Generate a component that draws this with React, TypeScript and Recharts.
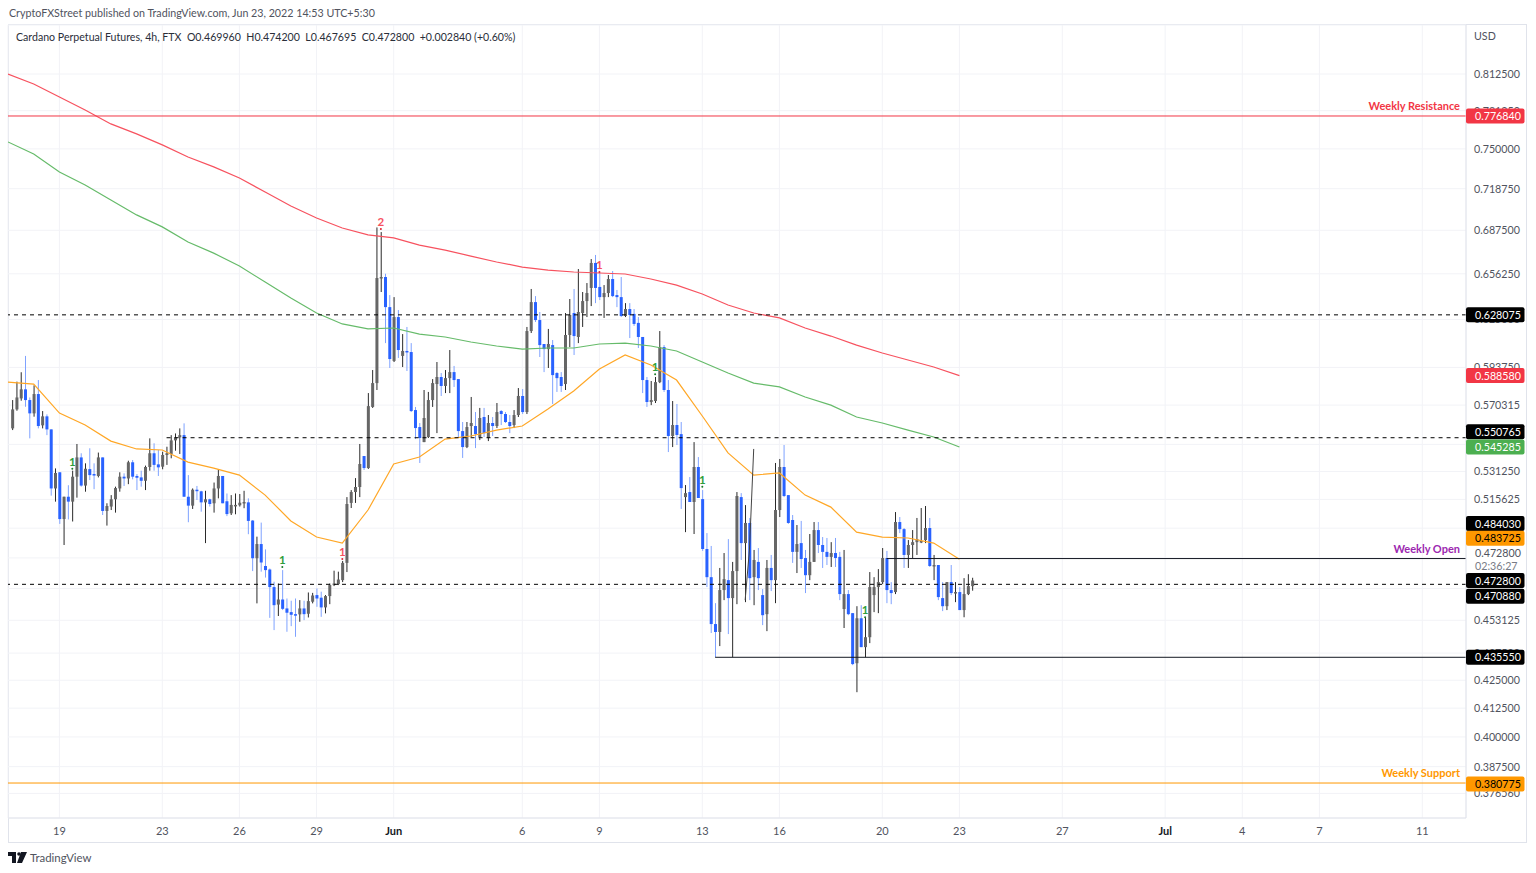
import React from "react";
import {
  Bar,
  CartesianGrid,
  ComposedChart,
  Line,
  ReferenceDot,
  ReferenceLine,
  XAxis,
  YAxis,
} from "recharts";

const FONT = "Lato, 'Open Sans', sans-serif";

// 4h candles, index 0 = May 19 00:00, six candles a day
const firstCandle = -11;
const opens = [
  .5563,.5677,.5744,.5800,.5734,.5653,.5771,.5581,.5635,.5557,
  .5217,.5308,.5049,.5171,.5144,.5283,.5393,.5233,.5326,.5298,
  .5287,.5393,.5093,.5117,.5157,.5217,.5283,.5273,.5365,.5287,
  .5279,.5260,.5338,.5417,.5353,.5340,.5407,.5413,.5492,.5510,
  .5523,.5171,.5122,.5210,.5201,.5140,.5157,.5135,.5217,.5287,
  .5146,.5080,.5124,.5124,.5138,.5140,.5041,.4842,.4916,.4802,
  .4784,.4695,.4608,.4633,.4589,.4571,.4561,.4560,.4589,.4563,
  .4622,.4655,.4642,.4594,.4650,.4705,.4710,.4730,.4818,.5137,
  .5197,.5225,.5401,.5332,.5692,.5839,.6533,.6540,.6333,.5979,
  .6266,.6011,.6043,.6036,.5673,.5571,.5482,.5512,.5734,.5833,
  .5877,.5821,.5870,.5908,.5864,.5547,.5453,.5577,.5577,.5512,
  .5631,.5506,.5595,.5577,.5667,.5649,.5601,.5583,.5643,.5759,
  .5661,.6173,.6367,.6246,.6088,.6055,.6081,.5902,.5877,.5833,
  .6147,.6293,.6134,.6293,.6374,.6464,.6639,.6471,.6401,.6429,
  .6526,.6415,.6401,.6273,.6320,.6287,.6227,.6134,.5858,.5722,
  .5728,.5845,.6068,.5796,.5518,.5583,.5529,.5169,.5197,.5142,
  .5338,.5158,.4890,.4745,.4513,.4475,.4680,.4730,.4640,.4776,
  .5169,.4921,.5028,.4745,.4823,.4655,.4561,.4792,.4730,.5098,
  .5338,.5180,.5044,.4875,.4921,.4843,.4755,.4823,.4990,.4911,
  .4875,.4849,.4869,.4849,.4586,.4660,.4566,.4328,.4541,.4403,
  .4450,.4655,.4695,.4720,.4843,.4680,.4670,.5033,.4995,.4859,
  .4911,.4926,.4926,.4937,.5001,.4802,.4807,.4640,.4600,.4720,
  .4665,.4670,.4581,.4660,.46996,
];
const highs = [
  .5734,.5848,.5907,.6011,.5750,.5825,.5858,.5667,.5647,.5557,
  .5330,.5308,.5171,.5235,.5317,.5471,.5417,.5359,.5446,.5359,
  .5421,.5393,.5135,.5180,.5227,.5308,.5302,.5374,.5378,.5298,
  .5317,.5346,.5504,.5475,.5436,.5426,.5455,.5523,.5533,.5563,
  .5593,.5292,.5217,.5231,.5204,.5204,.5160,.5250,.5326,.5287,
  .5189,.5180,.5189,.5186,.5204,.5162,.5044,.4955,.5030,.4888,
  .4789,.4722,.4713,.4781,.4638,.4627,.4638,.4630,.4627,.4668,
  .4666,.4688,.4672,.4655,.4713,.4778,.4773,.4828,.5169,.5208,
  .5275,.5471,.5401,.5777,.5921,.6896,.6862,.6563,.6415,.6401,
  .6313,.6153,.6200,.6094,.5692,.5595,.5796,.5784,.5864,.5972,
  .5902,.5921,.6049,.5947,.5864,.5601,.5601,.5753,.5661,.5686,
  .5686,.5643,.5631,.5716,.5673,.5661,.5643,.5673,.5808,.5802,
  .6200,.6457,.6408,.6300,.6088,.6187,.6114,.5908,.5908,.6293,
  .6388,.6457,.6596,.6436,.6498,.6667,.6696,.6568,.6484,.6554,
  .6582,.6450,.6540,.6360,.6360,.6320,.6266,.6134,.5877,.5852,
  .5877,.6173,.6081,.5858,.5728,.5710,.5601,.5236,.5281,.5482,
  .5395,.5208,.4974,.4906,.4615,.4792,.4869,.4942,.4823,.5197,
  .5191,.5125,.5055,.4885,.4895,.4685,.4833,.4859,.5361,.5384,
  .5465,.5180,.5071,.5017,.5039,.4885,.4969,.5033,.5033,.4953,
  .4948,.4926,.4948,.4875,.4885,.4680,.4566,.4600,.4605,.4546,
  .4771,.4745,.4786,.4895,.4880,.4720,.5087,.5060,.5001,.4937,
  .4990,.5055,.5109,.5120,.5055,.4859,.4807,.4720,.4720,.4807,
  .4720,.4695,.4740,.4760,.4742,
];
const lows = [
  .5553,.5669,.5730,.5693,.5504,.5633,.5563,.5563,.5523,.5177,
  .5144,.5023,.4911,.5047,.5036,.5166,.5227,.5199,.5264,.5213,
  .5279,.5071,.5014,.5098,.5084,.5199,.5231,.5241,.5268,.5208,
  .5227,.5208,.5317,.5317,.5287,.5325,.5350,.5388,.5432,.5413,
  .5171,.5032,.5104,.5153,.5089,.4921,.5117,.5084,.5162,.5135,
  .5065,.5071,.5075,.5117,.5108,.4968,.4776,.4614,.4773,.4743,
  .4543,.4484,.4552,.4581,.4476,.4503,.4452,.4524,.4532,.4545,
  .4614,.4597,.4548,.4565,.4610,.4700,.4705,.4720,.4771,.5109,
  .5137,.5169,.5321,.5327,.5686,.5796,.6436,.6094,.5934,.5972,
  .5998,.5940,.5915,.5661,.5500,.5361,.5482,.5506,.5692,.5535,
  .5759,.5777,.5777,.5815,.5512,.5390,.5447,.5512,.5447,.5494,
  .5512,.5488,.5518,.5565,.5583,.5595,.5535,.5565,.5631,.5649,
  .5649,.6160,.6233,.6004,.5908,.5934,.5710,.5784,.5784,.5796,
  .6068,.6017,.6094,.6200,.6266,.6340,.6360,.6381,.6260,.6401,
  .6401,.6333,.6266,.6266,.6127,.6207,.6062,.5777,.5692,.5703,
  .5716,.5839,.5784,.5424,.5453,.5465,.5104,.4979,.5142,.4969,
  .5164,.4880,.4695,.4470,.4356,.4408,.4630,.4465,.4356,.4610,
  .4833,.4620,.4630,.4605,.4680,.4508,.4479,.4675,.4615,.5060,
  .5169,.5023,.4818,.4766,.4792,.4665,.4730,.4823,.4869,.4792,
  .4807,.4797,.4797,.4630,.4494,.4556,.4319,.4196,.4403,.4356,
  .4422,.4571,.4566,.4710,.4615,.4610,.4660,.4974,.4792,.4792,
  .4843,.4859,.4921,.4921,.4797,.4730,.4630,.4576,.4581,.4655,
  .4620,.4581,.4546,.4655,.4677,
];
const closes = [
  .5677,.5750,.5800,.5734,.5653,.5771,.5577,.5635,.5557,.5217,
  .5304,.5049,.5171,.5144,.5283,.5393,.5233,.5328,.5292,.5292,
  .5393,.5093,.5120,.5157,.5219,.5283,.5273,.5365,.5283,.5277,
  .5260,.5338,.5417,.5350,.5336,.5407,.5417,.5492,.5510,.5523,
  .5171,.5122,.5210,.5204,.5140,.5157,.5131,.5217,.5287,.5135,
  .5076,.5126,.5126,.5138,.5142,.5039,.4842,.4916,.4820,.4781,
  .4695,.4605,.4633,.4587,.4568,.4558,.4558,.4589,.4561,.4625,
  .4653,.4638,.4594,.4650,.4705,.4713,.4733,.4818,.5131,.5197,
  .5225,.5355,.5332,.5697,.5839,.6533,.6540,.6333,.5991,.6266,
  .6049,.6043,.6036,.5667,.5565,.5506,.5625,.5734,.5839,.5877,
  .5821,.5870,.5908,.5858,.5547,.5453,.5571,.5595,.5529,.5625,
  .5535,.5595,.5577,.5661,.5649,.5601,.5577,.5643,.5759,.5661,
  .6173,.6367,.6246,.6081,.6055,.6088,.5889,.5870,.5821,.6147,
  .6280,.6140,.6300,.6374,.6429,.6639,.6464,.6401,.6429,.6526,
  .6408,.6401,.6273,.6320,.6280,.6220,.6134,.5858,.5722,.5734,
  .5845,.6068,.5796,.5518,.5583,.5524,.5219,.5191,.5142,.5338,
  .5164,.4890,.4745,.4513,.4475,.4680,.4735,.4640,.4776,.5175,
  .4921,.5028,.4740,.4833,.4740,.4556,.4792,.4730,.5098,.5338,
  .5175,.5028,.4875,.4916,.4838,.4755,.4823,.4990,.4911,.4875,
  .4849,.4869,.4843,.4660,.4660,.4561,.4324,.4541,.4403,.4450,
  .4695,.4695,.4720,.4843,.4680,.4665,.5033,.4995,.4859,.4911,
  .4926,.4942,.4932,.5001,.4802,.4807,.4645,.4600,.4720,.4665,
  .4670,.4581,.4660,.4700,.4728,
];

// daily moving averages, one point per day starting May 17
const firstAverageDay = -2;
const redAverage = [
  .8125,.8039,.7928,.7819,.7703,.7621,.7532,.7435,.7357,.7270,
  .7162,.7056,.6966,.6892,.6841,.6819,.6767,.6731,.6688,.6646,
  .6610,.6589,.6575,.6568,.6561,.6526,.6484,.6422,.6347,.6293,
  .6260,.6193,.6140,.6081,.6030,.5985,.5940,.5886,
];
const greenAverage = [
  .7556,.7459,.7317,.7216,.7101,.6989,.6900,.6789,.6709,.6617,
  .6505,.6395,.6293,.6220,.6187,.6193,.6153,.6134,.6101,.6075,
  .6055,.6062,.6062,.6088,.6094,.6075,.6043,.5972,.5902,.5839,
  .5815,.5753,.5703,.5631,.5595,.5553,.5512,.5453,
];
const orangeAverage = [
  .5845,.5833,.5655,.5583,.5488,.5442,.5436,.5366,.5332,.5292,
  .5180,.5039,.4953,.4921,.5098,.5355,.5395,.5500,.5518,.5553,
  .5577,.5679,.5790,.5927,.6017,.5953,.5858,.5637,.5419,.5292,
  .5304,.5180,.5114,.4979,.4953,.4948,.4921,.4837,
];

// stray hand drawn stroke near Jun 15
const strokeCandles = [160, 161, 162];
const strokePrices = [.4630, .4885, .5442];

const dayTicks = [0, 24, 42, 60, 78, 108, 126, 150, 168, 192, 210, 234, 258, 276, 294, 318];
const dayLabels = ["19", "23", "26", "29", "Jun", "6", "9", "13", "16", "20", "23", "27", "Jul", "4", "7", "11"];

const priceTicks = [
  .8125, .78125, .75, .71875, .6875, .65625, .625, .59375, .570315, .546875, .53125, .515625,
  .5, .484375, .46875, .453125, .4375, .425, .4125, .4, .3875, .37656,
];
// grid lines whose labels sit wholly behind a price tag
const hiddenTicks = [.546875, .5, .484375, .46875];
// labels a price tag covers in part, drawn under the tags
const peekingTicks = [.78125, .625, .59375, .4375, .37656];

const markCandles = [3, 52, 66, 75, 126, 139, 150, 188];
const markPrices = [.5328, .4797, .4838, .6885, .6575, .5895, .5227, .4546];
const markTexts = ["1", "1", "1", "2", "1", "1", "1", "1"];
const markBuy = [true, true, false, false, false, true, true, true];

const tagPrices = [.77684, .628075, .58858, .550765, .545285, .48403, .483725, .4728, .4728, .4728, .47088, .43555, .380775];
const tagTexts = ["0.776840", "0.628075", "0.588580", "0.550765", "0.545285", "0.484030", "0.483725", "0.472800", "02:36:27", "0.472800", "0.470880", "0.435550", "0.380775"];
const tagFills = ["#f23645", "#000", "#f23645", "#000", "#4caf50", "#000", "#ff9800", "none", "none", "#000", "#000", "#000", "#ff9800"];
const tagInks = ["#fff", "#fff", "#fff", "#fff", "#fff", "#fff", "#000", "#50535e", "#787b86", "#fff", "#fff", "#fff", "#000"];
const tagShifts = [0, 0, 0, -6, 0, -35, -21, -28, -15, 0, 12, 0, 1];

const lineNames = ["Weekly Resistance", "Weekly Open", "Weekly Support"];
const linePrices = [.77684, .48403, .380775];
const lineColors = ["#f23645", "#9c27b0", "#ff9800"];

const X_MIN = -12;
const X_MAX = 328.2;

const rows: any[] = [];
for (let idx = X_MIN; idx < firstCandle + opens.length; idx++) {
  const i = idx - firstCandle;
  const row: any = { idx };
  if (i >= 0) {
    row.up = closes[i] >= opens[i];
    row.wick = [lows[i], highs[i]];
    row.body = [Math.min(opens[i], closes[i]), Math.max(opens[i], closes[i])];
  }
  if (idx % 6 === 0) {
    const d = idx / 6 - firstAverageDay;
    row.red = redAverage[d];
    row.green = greenAverage[d];
    row.orange = orangeAverage[d];
  }
  const s = strokeCandles.indexOf(idx);
  if (s >= 0) row.stroke = strokePrices[s];
  rows.push(row);
}

function WickShape(props: any) {
  const { x, y, width, height, payload } = props;
  if (!payload.wick || !Number.isFinite(y)) return null;
  return <rect x={x} y={y} width={width} height={Math.max(height, 1)} fill={payload.up ? "#2a2a2a" : "#7fa2ff"} />;
}

function BodyShape(props: any) {
  const { x, y, width, height, payload } = props;
  if (!payload.body || !Number.isFinite(y)) return null;
  return <rect x={x} y={y} width={width} height={Math.max(height, 1.5)} fill={payload.up ? "#666" : "#2962ff"} />;
}

function PriceTick(props: any) {
  const { x, y, payload } = props;
  if (hiddenTicks.includes(payload.value) || peekingTicks.includes(payload.value)) return null;
  return (
    <text x={x} y={y + 4} fontSize={10.7} fontFamily={FONT} fill="#50535e">
      {payload.value.toFixed(6)}
    </text>
  );
}

function DayTick(props: any) {
  const { x, y, payload } = props;
  const label = dayLabels[dayTicks.indexOf(payload.value)];
  const bold = label === "Jun" || label === "Jul";
  return (
    <text x={x} y={y + 9} textAnchor="middle" fontSize={11} fontFamily={FONT} fontWeight={bold ? 700 : 400} fill={bold ? "#131722" : "#50535e"}>
      {label}
    </text>
  );
}

function App() {
  return (
    <div style={{ position: "absolute", left: 0, top: 0, width: 1536, height: 873, background: "#fff", fontFamily: FONT, overflow: "hidden" }}>
      <div style={{ position: "absolute", left: 9, top: 6, fontSize: 10.7, lineHeight: "14px", color: "#50535e", whiteSpace: "nowrap" }}>
        CryptoFXStreet published on TradingView.com, Jun 23, 2022 14:53 UTC+5:30
      </div>
      <div style={{ position: "absolute", left: 8, top: 24, width: 1517, height: 817, border: "1px solid #e0e3eb" }} />
      <ComposedChart
        width={1536}
        height={873}
        data={rows}
        margin={{ top: 25, right: 10, bottom: 31, left: 8 }}
        style={{ position: "absolute", left: 0, top: 0 }}
      >
        <CartesianGrid stroke="#f2f3f7" />
        <XAxis
          dataKey="idx"
          type="number"
          domain={[X_MIN, X_MAX]}
          allowDataOverflow
          ticks={dayTicks}
          interval={0}
          height={24}
          tick={<DayTick />}
          tickLine={false}
          axisLine={{ stroke: "#e0e3eb" }}
        />
        <XAxis xAxisId="wick" dataKey="idx" type="number" domain={[X_MIN, X_MAX]} allowDataOverflow hide />
        <YAxis
          orientation="right"
          scale="log"
          domain={[0.3668, 0.8562]}
          allowDataOverflow
          ticks={priceTicks}
          interval={0}
          width={60}
          tick={<PriceTick />}
          tickLine={false}
          axisLine={{ stroke: "#e0e3eb" }}
        />
        <Bar xAxisId="wick" dataKey="wick" barSize={1} shape={<WickShape />} isAnimationActive={false} />
        <Bar dataKey="body" barSize={3} shape={<BodyShape />} isAnimationActive={false} />
        <Line dataKey="red" stroke="#f7525f" strokeWidth={1.2} dot={false} connectNulls isAnimationActive={false} />
        <Line dataKey="green" stroke="#66bb6a" strokeWidth={1.2} dot={false} connectNulls isAnimationActive={false} />
        <Line dataKey="orange" stroke="#ffa726" strokeWidth={1.2} dot={false} connectNulls isAnimationActive={false} />
        <Line dataKey="stroke" stroke="#444" strokeWidth={1} dot={false} isAnimationActive={false} />

        <ReferenceLine y={.77684} stroke="#f23645" />
        <ReferenceLine y={.380775} stroke="#ff9800" />
        <ReferenceLine y={.628075} stroke="#000" strokeDasharray="4 4" />
        <ReferenceLine y={.47088} stroke="#000" strokeDasharray="4 4" />
        <ReferenceLine segment={[{ x: 25, y: .550765 }, { x: X_MAX, y: .550765 }]} stroke="#000" strokeDasharray="4 4" />
        <ReferenceLine segment={[{ x: 193, y: .48403 }, { x: X_MAX, y: .48403 }]} stroke="#131722" />
        <ReferenceLine segment={[{ x: 153, y: .43555 }, { x: X_MAX, y: .43555 }]} stroke="#131722" />

        {markCandles.map((c, i) => (
          <ReferenceDot
            key={"mark" + i}
            x={c}
            y={markPrices[i]}
            shape={(p: any) => {
              const color = markBuy[i] ? "#2e9e3b" : "#f7525f";
              return (
                <g>
                  <circle cx={p.cx} cy={p.cy} r={1} fill={markBuy[i] ? "#1b7a2b" : "#e0202f"} />
                  <text x={p.cx} y={p.cy - 3} textAnchor="middle" fontSize={11.5} fontFamily={FONT} fontWeight={700} fill={color}>
                    {markTexts[i]}
                  </text>
                </g>
              );
            }}
          />
        ))}
        {lineNames.map((name, i) => (
          <ReferenceDot
            key={name}
            x={X_MAX}
            y={linePrices[i]}
            shape={(p: any) => (
              <text x={p.cx - 6} y={p.cy - 6} textAnchor="end" fontSize={11} fontWeight={700} fontFamily={FONT} fill={lineColors[i]}>
                {name}
              </text>
            )}
          />
        ))}
        {peekingTicks.map((price) => (
          <ReferenceDot
            key={"peek" + price}
            x={X_MAX}
            y={price}
            shape={(p: any) => (
              <text x={p.cx + 8} y={p.cy + 4} fontSize={10.7} fontFamily={FONT} fill="#50535e">
                {price.toFixed(6)}
              </text>
            )}
          />
        ))}
        {tagPrices.map((price, i) => (
          <ReferenceDot
            key={"tag" + i}
            x={X_MAX}
            y={price}
            shape={(p: any) => (
              <g>
                {tagFills[i] !== "none" && <rect x={p.cx} y={p.cy + tagShifts[i] - 7.5} width={58.5} height={15} rx={2} fill={tagFills[i]} />}
                <text x={p.cx + 9} y={p.cy + tagShifts[i] + 4} fontSize={10.7} fontFamily={FONT} fill={tagInks[i]}>
                  {tagTexts[i]}
                </text>
              </g>
            )}
          />
        ))}
      </ComposedChart>
      <div style={{ position: "absolute", left: 16, top: 30, fontSize: 10.6, lineHeight: "14px", color: "#2a2e39", whiteSpace: "pre" }}>
        {"Cardano Perpetual Futures, 4h, FTX  O0.469960  H0.474200  L0.467695  C0.472800  +0.002840 (+0.60%)"}
      </div>
      <div style={{ position: "absolute", left: 1474, top: 29, fontSize: 10.7, lineHeight: "14px", color: "#50535e" }}>USD</div>
      <svg style={{ position: "absolute", left: 8, top: 852 }} width={20} height={11} viewBox="0 0 20 11">
        <path d="M0 0h8v11H4V4H0zM13 0h6l-5 11H9z" fill="#131722" />
        <circle cx={11} cy={2} r={1.8} fill="#131722" />
      </svg>
      <div style={{ position: "absolute", left: 30, top: 850, fontSize: 11.4, lineHeight: "15px", color: "#50535e" }}>TradingView</div>
    </div>
  );
}

export default App;
